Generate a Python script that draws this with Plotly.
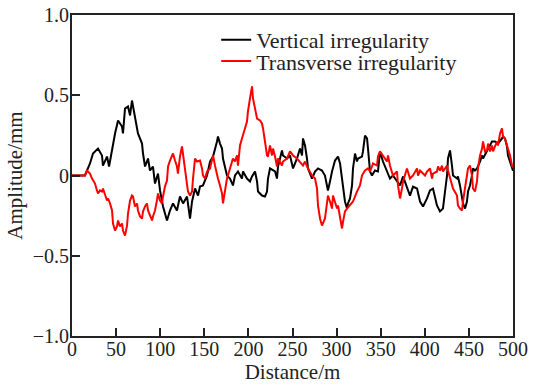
import plotly.graph_objects as go

# Vertical irregularity profile (distance in m, amplitude in mm)
vert_dist = [0, 14.7, 20.4, 23.8, 29.5, 34.0, 35.1, 39.7, 42.0, 45.4, 48.8, 52.2, 56.7, 57.8,
             60.1, 63.5, 65.8, 68.0, 69.2, 71.4, 74.8, 79.4, 80.5, 82.8, 86.2, 88.4, 91.8, 94.1,
             97.5, 99.8, 103.2, 107.7, 111.1, 114.5, 119.0, 122.4, 125.9, 130.4, 133.8, 136.1,
             139.5, 142.9, 145.1, 148.5, 153.1, 156.5, 159.9, 164.4, 165.5, 167.8, 170.1, 171.2,
             173.5, 175.7, 179.1, 182.5, 184.8, 188.2, 192.7, 193.9, 198.4, 201.8, 204.1, 207.5,
             209.8, 210.9, 215.4, 218.8, 221.1, 222.2, 224.5, 227.9, 230.2, 232.4, 233.6, 238.1,
             239.2, 243.8, 247.2, 250.6, 255.1, 258.5, 260.8, 261.9, 264.2, 266.4, 267.6, 272.1,
             275.5, 278.9, 283.4, 286.8, 289.1, 290.2, 292.5, 294.8, 298.2, 301.6, 303.9, 306.1,
             307.3, 309.5, 311.8, 312.9, 315.2, 317.5, 318.6, 320.9, 323.1, 324.3, 328.8, 329.9,
             332.2, 334.5, 335.6, 337.9, 340.1, 343.5, 346.9, 349.2, 352.6, 357.1, 360.5, 363.9,
             368.5, 371.9, 375.3, 379.8, 383.2, 386.6, 391.2, 394.6, 398.0, 402.5, 405.9, 409.3,
             411.6, 413.8, 417.2, 420.6, 422.9, 425.2, 426.3, 428.6, 430.8, 432.0, 436.5, 437.6,
             439.9, 442.2, 443.3, 445.6, 447.8, 449.0, 451.2, 453.5, 454.6, 456.9, 459.2, 462.6,
             464.9, 466.0, 470.5, 473.9, 476.2, 479.6, 483.0, 487.5, 488.7, 490.9, 493.2, 494.3,
             496.6, 498.9, 500]
vert_amp = [0, 0, 0.075, 0.137, 0.168, 0.125, 0.062, 0.118, 0.056, 0.168, 0.262, 0.343, 0.305, 0.262,
            0.417, 0.430, 0.374, 0.467, 0.430, 0.368, 0.262, 0.199, 0.137, 0.056, 0.106, 0.031, 0.056, -0.050,
            0.012, -0.093, -0.193, -0.280, -0.218, -0.174, -0.218, -0.131, -0.174, -0.131, -0.268, -0.162,
            -0.081, -0.125, -0.069, -0.062, 0.0, 0.087, 0.118, 0.212, 0.243, 0.199, 0.168, 0.106,
            0.044, 0.0, -0.019, -0.062, 0.0, 0.025, -0.019, 0.025, -0.019, -0.037, -0.006, 0.025,
            -0.037, -0.100, -0.125, -0.131, -0.100, -0.019, 0.044, 0.031, 0.025, -0.019, 0.056, 0.156,
            0.125, 0.106, 0.125, 0.044, 0.106, 0.168, 0.125, 0.231, 0.187, 0.106, 0.044, -0.019,
            0.025, 0.044, 0.031, 0.0, -0.062, -0.093, -0.037, 0.025, 0.093, 0.118, 0.075, -0.019,
            -0.100, -0.162, -0.206, -0.174, -0.143, -0.062, 0.044, 0.137, 0.087, 0.106, 0.118, 0.150,
            0.249, 0.231, 0.168, 0.025, 0.0, 0.031, 0.025, 0.150, 0.087, 0.025, -0.019, 0.0,
            -0.037, -0.062, -0.006, -0.081, -0.125, -0.069, -0.081, -0.162, -0.193, -0.143, -0.093, -0.081,
            -0.131, -0.187, -0.224, -0.206, -0.100, 0.0, 0.106, 0.156, 0.062, 0.0, -0.019, -0.006,
            -0.062, -0.125, -0.174, -0.206, -0.162, -0.100, -0.062, 0.0, 0.044, 0.031, 0.044, 0.087,
            0.125, 0.106, 0.150, 0.181, 0.212, 0.212, 0.199, 0.231, 0.243, 0.231, 0.181, 0.125,
            0.087, 0.056, 0.03]

# Transverse irregularity profile
trans_dist = [0, 14.7, 17.0, 20.4, 22.7, 26.1, 28.3, 29.5, 31.7, 34.0, 35.1, 37.4, 39.7, 40.8,
              43.1, 45.4, 46.5, 48.8, 51.0, 52.2, 54.4, 56.7, 57.8, 60.1, 62.4, 63.5, 65.8, 68.0,
              69.2, 71.4, 73.7, 74.8, 77.1, 79.4, 80.5, 82.8, 85.0, 86.2, 88.4, 90.7, 91.8, 94.1,
              96.3, 97.5, 99.8, 102.0, 103.2, 105.4, 107.7, 108.9, 111.1, 113.4, 114.5, 116.8, 119.0,
              120.1, 122.4, 124.7, 125.9, 128.1, 131.5, 133.8, 136.1, 137.2, 139.5, 141.7, 145.1,
              147.4, 148.5, 150.8, 153.1, 156.5, 158.7, 159.9, 162.1, 164.4, 165.5, 167.8, 170.1,
              171.2, 173.5, 175.7, 179.1, 181.4, 182.5, 184.8, 187.1, 188.2, 190.5, 192.7, 193.9,
              196.1, 198.4, 199.5, 201.8, 204.1, 205.2, 207.5, 209.8, 213.2, 215.4, 216.6, 218.8,
              221.1, 222.2, 224.5, 226.8, 227.9, 230.2, 232.4, 233.6, 235.8, 238.1, 239.2, 243.8,
              247.2, 250.6, 255.1, 258.5, 261.9, 264.2, 267.6, 272.1, 275.5, 277.8, 278.9, 281.2,
              283.4, 286.8, 289.1, 290.2, 292.5, 294.8, 295.9, 298.2, 300.5, 301.6, 303.9, 306.1,
              307.3, 309.5, 311.8, 315.2, 318.6, 323.1, 326.5, 328.8, 332.2, 335.6, 337.9, 340.1,
              341.3, 345.8, 346.9, 349.2, 352.6, 357.1, 358.3, 360.5, 363.9, 368.5, 369.6, 371.9,
              374.1, 375.3, 379.8, 381.0, 383.2, 386.6, 391.2, 392.3, 394.6, 398.0, 400.2, 402.5,
              405.9, 408.2, 409.3, 413.8, 415.0, 417.2, 419.5, 420.6, 425.2, 426.3, 428.6, 432.0,
              436.5, 437.6, 439.9, 442.2, 443.3, 445.6, 447.8, 449.0, 451.2, 453.5, 454.6, 456.9,
              459.2, 460.3, 462.6, 464.9, 466.0, 468.3, 470.5, 471.7, 473.9, 476.2, 477.3, 479.6,
              481.9, 483.0, 485.3, 487.5, 488.7, 490.9, 493.2, 494.3, 496.6, 498.9, 500]
trans_amp = [0, 0, 0.031, 0.012, -0.019, -0.050, -0.093, -0.112, -0.093, -0.100, -0.081, -0.125, -0.156, -0.143,
             -0.174, -0.218, -0.299, -0.343, -0.318, -0.280, -0.318, -0.299, -0.343, -0.374, -0.312, -0.237, -0.156, -0.125,
             -0.131, -0.193, -0.174, -0.218, -0.255, -0.268, -0.224, -0.193, -0.174, -0.218, -0.255, -0.280, -0.255, -0.218,
             -0.156, -0.112, -0.156, -0.174, -0.131, -0.069, -0.031, 0.056, 0.093, 0.125, 0.137, 0.093, 0.056,
             0.012, 0.118, 0.181, 0.137, 0.031, -0.100, -0.125, -0.100, -0.019, 0.106, 0.087, 0.093,
             0.044, 0.0, -0.019, 0.025, 0.044, 0.087, 0.125, 0.062, 0.0, -0.019, -0.062, -0.112,
             -0.174, -0.100, -0.019, 0.044, 0.087, 0.106, 0.087, 0.125, 0.062, 0.187, 0.231, 0.249,
             0.293, 0.336, 0.399, 0.480, 0.555, 0.480, 0.418, 0.355, 0.343, 0.324, 0.293, 0.212,
             0.125, 0.118, 0.187, 0.125, 0.168, 0.118, 0.056, 0.106, 0.087, 0.062, 0.087, 0.106,
             0.150, 0.125, 0.106, 0.087, 0.062, 0.087, 0.044, 0.0, -0.019, -0.081, -0.187, -0.268,
             -0.312, -0.268, -0.187, -0.125, -0.162, -0.206, -0.125, -0.162, -0.206, -0.187, -0.268, -0.330,
             -0.287, -0.224, -0.206, -0.187, -0.162, -0.100, -0.062, 0.0, 0.031, 0.044, 0.025, 0.056,
             0.075, 0.062, 0.118, 0.150, 0.125, 0.087, 0.125, 0.062, 0.0, 0.025, -0.062, -0.143,
             -0.081, -0.037, 0.044, 0.025, -0.019, 0.0, 0.044, 0.0, 0.031, 0.012, 0.0, 0.025,
             0.044, -0.019, 0.012, 0.025, 0.056, 0.031, 0.062, 0.025, 0.062, 0.031, -0.019, -0.081,
             -0.125, -0.187, -0.206, -0.218, -0.162, -0.081, 0.0, 0.044, 0.062, 0.0, -0.081, -0.100,
             -0.037, 0.044, 0.125, 0.168, 0.212, 0.150, 0.156, 0.199, 0.150, 0.187, 0.150, 0.187,
             0.212, 0.187, 0.262, 0.293, 0.243, 0.231, 0.187, 0.156, 0.125, 0.062, 0.05]

x_ticks = [0, 50, 100, 150, 200, 250, 300, 350, 400, 450, 500]
y_ticks = [-1.0, -0.5, 0, 0.5, 1.0]
y_tick_text = ["\u22121.0", "\u22120.5", "0", "0.5", "1.0"]

SERIF = "Liberation Serif, Times New Roman, serif"
INK = "#222222"

fig = go.Figure()
fig.add_trace(go.Scatter(
    x=vert_dist, y=vert_amp, mode="lines", name="Vertical irregularity",
    line=dict(color="black", width=2), legend="legend",
))
fig.add_trace(go.Scatter(
    x=trans_dist, y=trans_amp, mode="lines", name="Transverse irregularity",
    line=dict(color="#ff0000", width=2), legend="legend2",
))

legend_style = dict(
    xanchor="left", yanchor="middle", bgcolor="rgba(0,0,0,0)", borderwidth=0,
    font=dict(family=SERIF, size=22, color=INK), itemwidth=30,
)

fig.update_layout(
    width=535, height=391,
    margin=dict(l=72, r=22, t=15, b=55),
    paper_bgcolor="white", plot_bgcolor="white",
    font=dict(family=SERIF, size=20, color=INK),
    showlegend=True,
    legend=dict(x=0.327, y=0.922, **legend_style),
    legend2=dict(x=0.327, y=0.856, **legend_style),
    xaxis=dict(
        range=[0, 500], tickvals=x_ticks, ticks="inside", ticklen=8, tickwidth=2,
        tickcolor=INK, showline=True, linecolor=INK, linewidth=2, mirror=True,
        showgrid=False, zeroline=False, automargin=False, ticklabelstandoff=-6,
        title=dict(text="Distance/m", font=dict(size=21), standoff=4),
        tickfont=dict(size=20),
    ),
    yaxis=dict(
        range=[-1, 1], tickvals=y_ticks, ticktext=y_tick_text, ticks="inside", ticklen=8,
        tickwidth=2, tickcolor=INK, showline=True, linecolor=INK, linewidth=2, mirror=True,
        showgrid=False, zeroline=False, automargin=False, ticklabelstandoff=-3,
        title=dict(text="Amplitude/mm", font=dict(size=21), standoff=4),
        tickfont=dict(size=20),
    ),
)

fig.write_html("out.html")
